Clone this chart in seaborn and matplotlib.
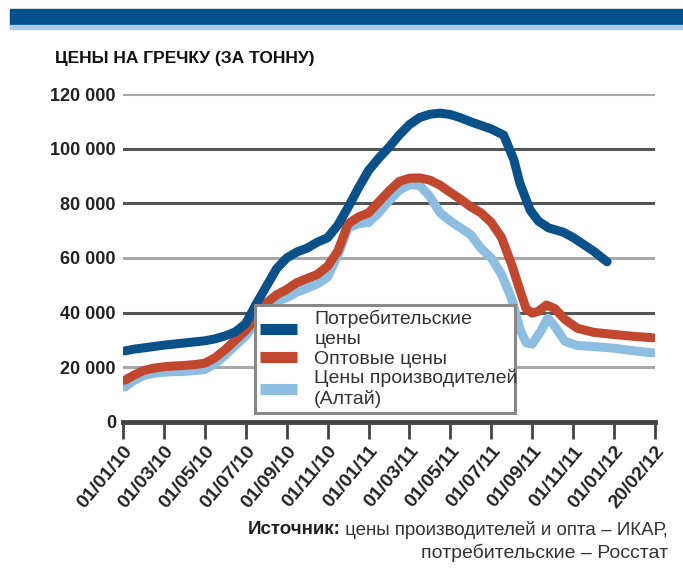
import matplotlib
matplotlib.use("Agg")
import matplotlib.pyplot as plt
import seaborn as sns
from matplotlib.patches import Rectangle

# positions are in tick units (one tick = two months from 01/01/10)
tick_labels = ["01/01/10", "01/03/10", "01/05/10", "01/07/10", "01/09/10", "01/11/10",
               "01/01/11", "01/03/11", "01/05/11", "01/07/11", "01/09/11", "01/11/11",
               "01/01/12", "20/02/12"]

consumer_x = [0.05, 0.25, 0.5, 0.75, 1.0, 1.25, 1.5, 1.75, 2.0, 2.25, 2.5, 2.75, 3.0, 3.25,
              3.5, 3.75, 4.0, 4.25, 4.5, 4.75, 5.0, 5.25, 5.5, 5.75, 6.0, 6.25, 6.5, 6.75,
              7.0, 7.25, 7.5, 7.75, 8.0, 8.25, 8.5, 8.75, 9.0, 9.3, 9.55, 9.7, 9.95, 10.15,
              10.4, 10.75, 11.0, 11.25, 11.5, 11.83]
consumer = [26000, 26600, 27100, 27600, 28100, 28500, 28900, 29300, 29700, 30400, 31500,
            33000, 36000, 43000, 49500, 56000, 60000, 62200, 63600, 65800, 67400, 72000,
            78500, 85500, 92000, 96500, 100500, 105000, 108800, 111400, 112600, 113000,
            112500, 111300, 109800, 108500, 107200, 105000, 96000, 87300, 77500, 73500,
            71000, 69500, 67500, 65000, 62500, 58600]

wholesale_x = [0.05, 0.25, 0.5, 0.75, 1.0, 1.25, 1.5, 1.75, 2.0, 2.25, 2.5, 2.75, 3.0, 3.25,
               3.5, 3.75, 4.0, 4.25, 4.5, 4.75, 5.0, 5.25, 5.5, 5.75, 6.0, 6.25, 6.5, 6.75,
               7.0, 7.25, 7.5, 7.75, 8.0, 8.25, 8.5, 8.75, 9.0, 9.25, 9.5, 9.7, 9.85, 10.0,
               10.15, 10.35, 10.55, 10.8, 11.1, 11.5, 12.0, 12.5, 12.95]
wholesale = [15300, 17000, 18800, 19700, 20200, 20500, 20700, 21000, 21500, 23500, 26500,
             30000, 33500, 38000, 43500, 46500, 48500, 51000, 52500, 54000, 57000, 62500,
             72500, 75000, 76500, 80500, 84500, 88000, 89200, 89300, 88500, 86600, 84000,
             81500, 78700, 76500, 73000, 67500, 57500, 48200, 41500, 39800, 40500, 42800,
             41500, 37500, 34300, 32800, 32000, 31300, 30800]

producer_x = [0.05, 0.25, 0.5, 0.75, 1.0, 1.25, 1.5, 1.75, 2.0, 2.25, 2.5, 2.75, 3.0, 3.25,
              3.5, 3.75, 4.0, 4.25, 4.5, 4.75, 5.0, 5.25, 5.5, 5.75, 6.0, 6.25, 6.5, 6.75,
              7.0, 7.25, 7.5, 7.75, 8.0, 8.25, 8.5, 8.75, 9.0, 9.25, 9.5, 9.7, 9.85, 10.0,
              10.2, 10.38, 10.55, 10.8, 11.1, 11.5, 12.0, 12.5, 12.95]
producer = [12800, 15000, 17000, 17800, 18200, 18400, 18500, 18800, 19200, 21300, 24500,
            28000, 31500, 36500, 41500, 44000, 45500, 47500, 49000, 50500, 53000, 61000,
            71000, 72500, 73000, 76500, 81000, 84800, 86800, 86600, 82500, 76500, 73500,
            71000, 68500, 63500, 60000, 54000, 45000, 34000, 29000, 28500, 33000, 38000,
            35000, 29500, 28000, 27600, 27000, 26000, 25300]

series_names = ["Потребительские\nцены", "Оптовые цены", "Цены производителей\n(Алтай)"]
colors = ["#0b5189", "#c2472f", "#8dbde0"]
y_ticks = [0, 20000, 40000, 60000, 80000, 100000, 120000]
grid_colors = ["#a8a8a8", "#555555", "#a8a8a8", "#555555", "#555555", "#a8a8a8"]

sns.set_theme(style="white")
plt.rcParams["font.family"] = ["Liberation Sans", "DejaVu Sans"]

fig = plt.figure(figsize=(6.83, 5.81), dpi=100)
ax = fig.add_axes([0.180, 0.2737, 0.779, 0.5645])

for y, c in zip(y_ticks[1:], grid_colors):
    ax.axhline(y, color=c, lw=2.2, zorder=1)

lines = [(producer_x, producer), (wholesale_x, wholesale), (consumer_x, consumer)]
order = [2, 1, 0]
for (xs, ys), i in zip(lines, order):
    sns.lineplot(x=xs, y=ys, ax=ax, color=colors[i], linewidth=6.5, sort=False,
                 estimator=None, label=series_names[i], zorder=3,
                 solid_capstyle="round", solid_joinstyle="round")

ax.set_xlim(0, 13)
ax.set_ylim(0, 120000)
for side in ["top", "right", "left"]:
    ax.spines[side].set_visible(False)
ax.spines["bottom"].set_linewidth(3.5)
ax.spines["bottom"].set_color("#444444")
ax.spines["bottom"].set_zorder(4)

ax.set_xticks(range(len(tick_labels)))
ax.set_xticklabels(tick_labels, rotation=50, ha="right", rotation_mode="anchor",
                   fontsize=14, fontweight="bold", color="#222222")
ax.tick_params(axis="x", direction="out", length=12, width=2, color="#444444", pad=3,
               bottom=True)
ax.set_yticks(y_ticks)
ax.set_yticklabels([f"{v:,}".replace(",", " ") for v in y_ticks], fontsize=13,
                   fontweight="bold", color="#222222")
ax.tick_params(axis="y", length=0, pad=5)
ax.grid(False)

handles, labels = ax.get_legend_handles_labels()
handles = [handles[labels.index(n)] for n in series_names]
leg = ax.legend(handles, series_names, loc="lower left",
                bbox_to_anchor=(0.248, 0.027, 0.489, 0.3), mode="expand", borderaxespad=0,
                fontsize=14, handlelength=1.9, handletextpad=0.9, labelspacing=0.1,
                borderpad=0.25, frameon=True, fancybox=False, framealpha=1,
                edgecolor="#888888", labelcolor="#333333")
leg.get_frame().set_linewidth(2.2)
leg.set_zorder(5)
for line in leg.get_lines():
    line.set_linewidth(8)
    line.set_solid_capstyle("butt")

# header band
fig.patches.append(Rectangle((10 / 683, 1 - 25 / 581), 1, 16 / 581, transform=fig.transFigure,
                             color="#02518b", zorder=0))
fig.patches.append(Rectangle((10 / 683, 1 - 29 / 581), 1, 4 / 581, transform=fig.transFigure,
                             color="#a9cce6", zorder=0))

fig.text(55 / 683, 1 - 58 / 581, "ЦЕНЫ НА ГРЕЧКУ (ЗА ТОННУ)", fontsize=12.5,
         fontweight="bold", va="center", ha="left", color="#111111")

src = fig.text(668 / 683, 1 - 530 / 581, " цены производителей и опта – ИКАР,", fontsize=13.5,
               ha="right", va="center", color="#333333")
fig.text(668 / 683, 1 - 553 / 581, "потребительские – Росстат", fontsize=14,
         ha="right", va="center", color="#333333")
fig.canvas.draw()
left = src.get_window_extent().x0 / fig.bbox.width
fig.text(left, 1 - 530 / 581, "Источник:", fontsize=13.5, fontweight="bold",
         ha="right", va="center", color="#222222")

fig.savefig("out.png", dpi=100)
